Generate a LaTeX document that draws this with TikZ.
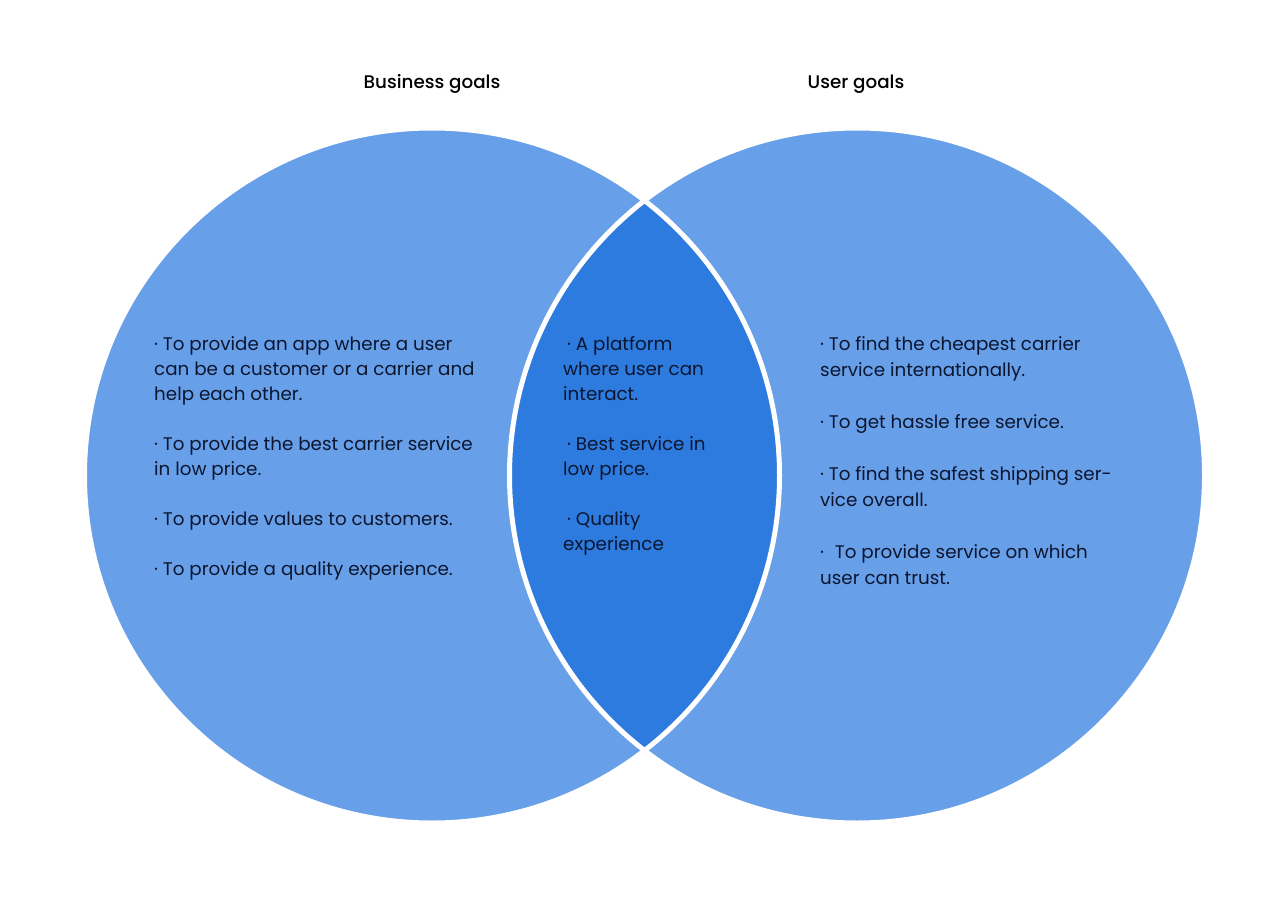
\documentclass[tikz,border=0pt]{standalone}
\usepackage{fontspec}
\setmainfont{Poppins}
\newfontfamily\titlefont{Poppins Medium}
\definecolor{lightblue}{RGB}{103,159,232}
\definecolor{darkblue}{RGB}{45,123,222}
\definecolor{ink}{RGB}{12,22,48}
\newcommand\stacklines[1]{\vtop{\halign{##\hfil\cr#1\crcr}}}
\begin{document}
\begin{tikzpicture}[x=1pt,y=-1pt,
  body/.style={inner sep=0pt, text=ink, anchor=base west, font=\fontsize{18.3}{25}\selectfont},
  bodywide/.style={body, font=\fontsize{18.3}{26}\selectfont},
  title/.style={inner sep=0pt, text=black, anchor=base, font=\titlefont\fontsize{18.3}{20}\selectfont},
  ring/.style={draw=white, line width=5pt}]
\useasboundingbox (0,0) rectangle (1288,912);
\fill[white] (0,0) rectangle (1288,912);
\coordinate (lc) at (432,475.5);
\coordinate (rc) at (857,475.5);
\fill[lightblue] (lc) circle[radius=347.5];
\fill[lightblue] (rc) circle[radius=347.5];
\begin{scope}
  \clip (lc) circle[radius=347.5];
  \fill[darkblue] (rc) circle[radius=347.5];
\end{scope}
\path[ring] (lc) circle[radius=347.5];
\path[ring] (rc) circle[radius=347.5];

\node[title] (bt) at (432,89) {Business goals};
\node[title] (ut) at (856,89) {User goals};

\node[body] (bl) at (154,350) {\stacklines{%
· To provide an app where a user\cr
can be a customer or a carrier and\cr
help each other.\cr
\cr
· To provide the best carrier service\cr
in low price.\cr
\cr
· To provide values to customers.\cr
\cr
· To provide a quality experience.}};

\node[body] (ml) at (563,350) {\stacklines{%
\hspace{4pt}· A platform\cr
where user can\cr
interact.\cr
\cr
\hspace{4pt}· Best service in\cr
low price.\cr
\cr
\hspace{4pt}· Quality\cr
experience}};

\node[bodywide] (ur) at (820,350) {\stacklines{%
· To find the cheapest carrier\cr
service internationally.\cr
\cr
· To get hassle free service.\cr
\cr
· To find the safest shipping ser-\cr
vice overall.\cr
\cr
·\hspace{6pt} To provide service on which\cr
user can trust.}};
\end{tikzpicture}
\end{document}
